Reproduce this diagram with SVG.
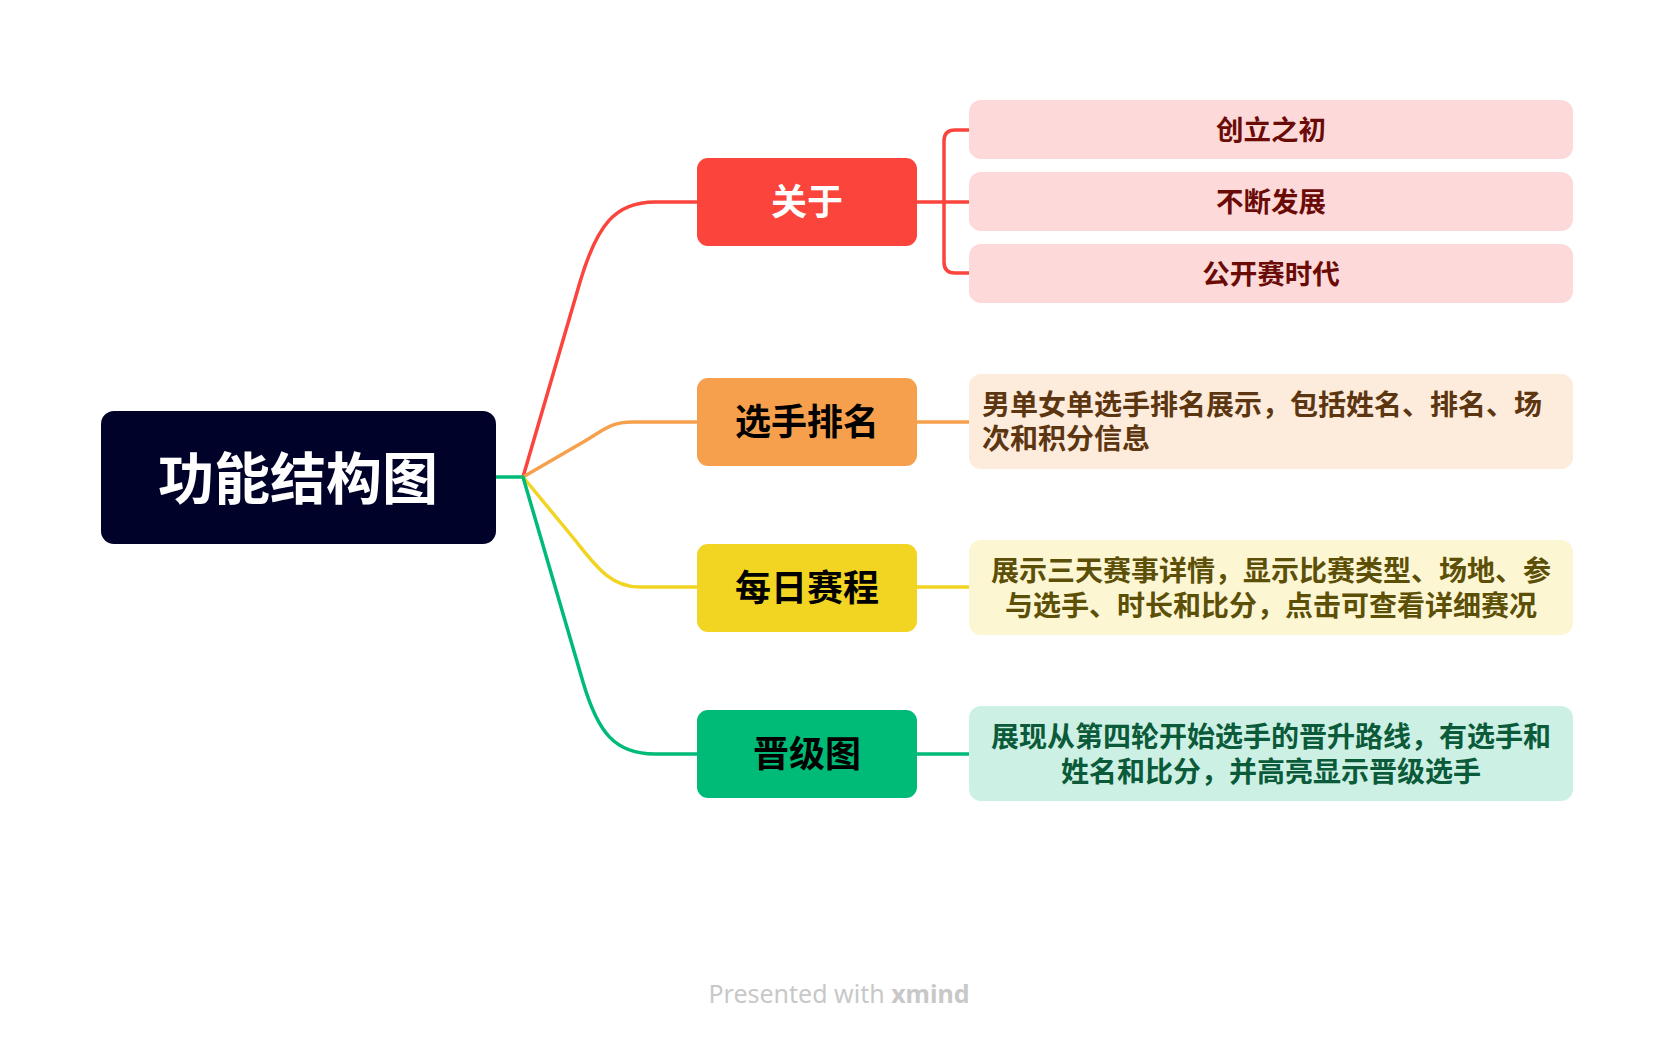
<svg xmlns="http://www.w3.org/2000/svg" width="1674" height="1042" viewBox="0 0 1674 1042">
<style>
  text { font-family: "Noto Sans CJK SC", "Noto Sans", sans-serif; font-weight: 700; dominant-baseline: central; }
  .c { fill: none; stroke-width: 3.5; stroke-linecap: round; stroke-linejoin: round; }
  .main { font-size: 36px; text-anchor: middle; }
  .sub { font-size: 27.5px; text-anchor: middle; }
  .desc { font-size: 28px; }
</style>
<rect width="1674" height="1042" fill="#ffffff"/>
<g id="connectors">
  <path class="c" stroke="#00BA78" d="M496,477 L523,477"/>
  <path class="c" stroke="#FA443C" d="M523,477 L580,282 C597,225 615,202 655,202 L697,202"/>
  <path class="c" stroke="#F6A04D" d="M523,477 L585,441 C605,429 612,422 632,422 L697,422"/>
  <path class="c" stroke="#F2D422" d="M523,477 L575,540 C595,565 610,587 640,587 L697,587"/>
  <path class="c" stroke="#00BA78" d="M523,477 L583,682 C598,733 615,754 655,754 L697,754"/>
  <path class="c" stroke="#FA443C" d="M917,202 L969,202 M969,130 L955,130 Q944,130 944,141 L944,262 Q944,273 955,273 L969,273"/>
  <path class="c" stroke="#F6A04D" d="M917,422 L969,422"/>
  <path class="c" stroke="#F2D422" d="M917,587 L969,587"/>
  <path class="c" stroke="#00BA78" d="M917,754 L969,754"/>
</g>
<g id="root">
  <rect x="101" y="411" width="395" height="133" rx="13" fill="#000229"/>
  <text x="298" y="474" fill="#ffffff" font-size="56" font-weight="900" text-anchor="middle">功能结构图</text>
</g>
<g id="about">
  <rect x="697" y="158" width="220" height="88" rx="11" fill="#FA443C"/>
  <text class="main" x="807" y="199" fill="#ffffff">关于</text>
</g>
<g id="ranking">
  <rect x="697" y="378" width="220" height="88" rx="11" fill="#F6A04D"/>
  <text class="main" x="807" y="419" fill="#000000">选手排名</text>
</g>
<g id="schedule">
  <rect x="697" y="544" width="220" height="88" rx="11" fill="#F2D422"/>
  <text class="main" x="807" y="585" fill="#000000">每日赛程</text>
</g>
<g id="bracket">
  <rect x="697" y="710" width="220" height="88" rx="11" fill="#00BA78"/>
  <text class="main" x="807" y="751" fill="#000000">晋级图</text>
</g>
<g id="about-1">
  <rect x="969" y="100" width="604" height="59" rx="12" fill="#FDDAD9"/>
  <text class="sub" x="1271" y="128" fill="#6B0B07">创立之初</text>
</g>
<g id="about-2">
  <rect x="969" y="172" width="604" height="59" rx="12" fill="#FDDAD9"/>
  <text class="sub" x="1271" y="200" fill="#6B0B07">不断发展</text>
</g>
<g id="about-3">
  <rect x="969" y="244" width="604" height="59" rx="12" fill="#FDDAD9"/>
  <text class="sub" x="1271" y="272" fill="#6B0B07">公开赛时代</text>
</g>
<g id="ranking-desc">
  <rect x="969" y="374" width="604" height="95" rx="12" fill="#FDEBDB"/>
  <text class="desc" x="982" y="403" fill="#5C3511">男单女单选手排名展示，包括姓名、排名、场</text>
  <text class="desc" x="982" y="437" fill="#5C3511">次和积分信息</text>
</g>
<g id="schedule-desc">
  <rect x="969" y="540" width="604" height="95" rx="12" fill="#FDF6D3"/>
  <text class="desc" x="1271" y="569" fill="#5C4F07" text-anchor="middle">展示三天赛事详情，显示比赛类型、场地、参</text>
  <text class="desc" x="1271" y="604" fill="#5C4F07" text-anchor="middle">与选手、时长和比分，点击可查看详细赛况</text>
</g>
<g id="bracket-desc">
  <rect x="969" y="706" width="604" height="95" rx="12" fill="#CCF1E4"/>
  <text class="desc" x="1271" y="735" fill="#0B5A3A" text-anchor="middle">展现从第四轮开始选手的晋升路线，有选手和</text>
  <text class="desc" x="1271" y="770" fill="#0B5A3A" text-anchor="middle">姓名和比分，并高亮显示晋级选手</text>
</g>
<text x="839" y="993" fill="#C8C8C8" font-size="25" text-anchor="middle" style="font-family: 'Noto Sans', 'Open Sans', sans-serif; font-weight: 400;">Presented with <tspan font-weight="700">xmind</tspan></text>
</svg>
